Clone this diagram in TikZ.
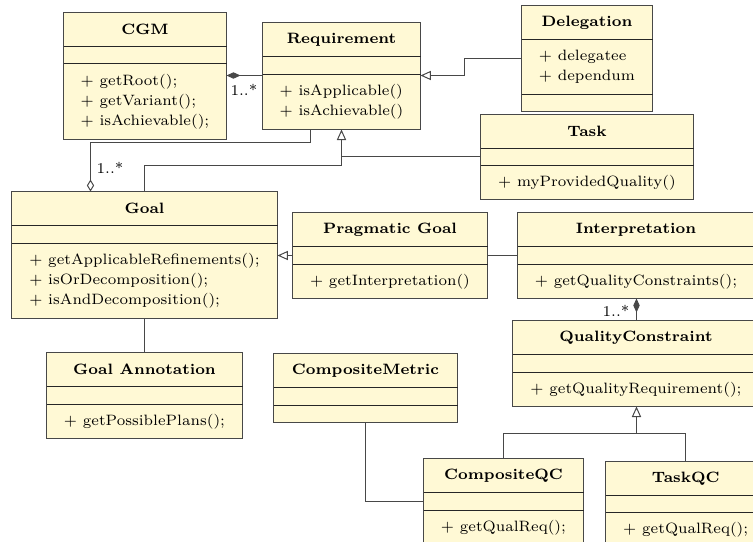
\documentclass[tikz,border=0pt]{standalone}
\usetikzlibrary{arrows.meta,calc,fit}

\definecolor{classfill}{RGB}{255,249,213}
\definecolor{edgegray}{RGB}{72,72,72}

% One UML class box: name, x1, y1, x2, y2, second separator y, title, attributes, operations
\newcommand\umlclass[9]{%
  \pgfmathsetmacro\ucA{#3+34}%
  \pgfmathsetmacro\ucX{(#2+#4)/2}%
  \pgfmathsetmacro\ucT{(#3+\ucA)/2}%
  \pgfmathsetmacro\ucM{(\ucA+#6)/2}%
  \pgfmathsetmacro\ucO{(#6+#5)/2}%
  \node[classbox, fit={(#2,#3) (#4,#5)}] (#1) {};
  \draw[classsep] (#2,\ucA) -- (#4,\ucA) (#2,#6) -- (#4,#6);
  \node[classtitle] (#1-name) at (\ucX,\ucT) {#7};
  \node[classtext] (#1-attr) at (\ucX,\ucM) {#8};
  \node[classtext] (#1-ops) at (\ucX,\ucO) {#9};
}

\begin{document}
\begin{tikzpicture}[x=0.4667pt, y=-0.4667pt,
  classbox/.style={draw=edgegray, fill=classfill, line width=0.4667pt, inner sep=0pt, outer sep=0pt},
  classsep/.style={draw=black!85, line width=0.4667pt},
  classtitle/.style={font=\fontsize{7}{9.33}\selectfont\bfseries, inner sep=0pt},
  classtext/.style={font=\fontsize{7}{9.33}\selectfont, align=left, inner sep=0pt},
  link/.style={draw=edgegray, line width=0.4667pt},
  composition/.style={link, -{Diamond[length=6.5pt,width=3pt]}},
  aggregation/.style={link, -{Diamond[open,length=5.6pt,width=3.4pt]}},
  generalization/.style={link, -{Triangle[open,length=4.9pt,width=4.3pt]}},
  mult/.style={font=\fontsize{7}{9.33}\selectfont, inner sep=0pt},
]
\useasboundingbox (0,0) rectangle (753,542);
\clip (0,0) rectangle (753,542);

% classes
\umlclass{cgm}{63.5}{12.5}{226.5}{139.5}{63.5}{CGM}{}{$+$ getRoot();\\ $+$ getVariant();\\ $+$ isAchievable();}
\umlclass{req}{262.5}{22.5}{420.5}{129.5}{74.5}{Requirement}{}{$+$ isApplicable()\\ $+$ isAchievable()}
\umlclass{deleg}{521.5}{5.5}{652.5}{111.5}{94.5}{Delegation}{$+$ delegatee\\ $+$ dependum}{}
\umlclass{task}{480.5}{114.5}{693.5}{199.5}{165.5}{Task}{}{$+$ myProvidedQuality()}
\umlclass{goal}{11.5}{191.5}{277.5}{318.5}{243.5}{Goal}{}{$+$ getApplicableRefinements();\\ $+$ isOrDecomposition();\\ $+$ isAndDecomposition();}
\umlclass{pg}{292.5}{212.5}{487.5}{298.5}{264.5}{Pragmatic Goal}{}{$+$ getInterpretation()}
\umlclass{interp}{517.5}{212.5}{754.5}{298.5}{264.5}{Interpretation}{}{$+$ getQualityConstraints();}
\umlclass{qc}{512.5}{320.5}{759.5}{406.5}{372.5}{QualityConstraint}{}{$+$ getQualityRequirement();}
\umlclass{cqc}{423.5}{458.5}{583.5}{544}{510.5}{CompositeQC}{}{$+$ getQualReq();}
\umlclass{tqc}{605.5}{461.5}{766}{546}{512.5}{TaskQC}{}{$+$ getQualReq();}
\umlclass{ga}{46.5}{352.5}{242.5}{438.5}{404.5}{Goal Annotation}{}{$+$ getPossiblePlans();}
\umlclass{cm}{273.5}{353.5}{457.5}{422.5}{405.5}{CompositeMetric}{}{}

% CGM is composed of requirements
\draw[composition] ($(req.north west)+(0,53)$) -- ($(cgm.north east)+(0,63)$);
\node[mult] (m1) at (244,90) {1..*};

% Delegation specialises Requirement
\draw[generalization] ($(deleg.north west)+(0,53)$) -| ($(req.north east)+(44,53)$)
  -- ($(req.north east)+(0,53)$);

% Goal aggregates requirements
\draw[aggregation] ($(req.south west)+(48,0)$) |- ($(goal.north west)+(79,-49)$)
  -- ($(goal.north west)+(79,0)$);
\node[mult] (m2) at (110,168) {1..*};

% Goal and Task specialise Requirement
\draw[generalization] ($(goal.north west)+(133,0)$) |- ($(req.south west)+(79,36)$)
  -- ($(req.south west)+(79,0)$);
\draw[link] ($(task.north west)+(0,42)$) -- ($(req.south west)+(79,27)$);

% Pragmatic Goal specialises Goal
\draw[generalization] ($(pg.north west)+(0,43)$) -- ($(goal.north east)+(0,64)$);

% Pragmatic Goal -- Interpretation
\draw[link] ($(pg.north east)+(0,43)$) -- ($(interp.north west)+(0,43)$);

% Interpretation is composed of quality constraints
\draw[composition] ($(qc.north west)+(124,0)$) -- ($(interp.south west)+(119,0)$);
\node[mult] (m3) at (616,311) {1..*};

% CompositeQC and TaskQC specialise QualityConstraint
\draw[generalization] ($(cqc.north west)+(80,0)$) |- ($(qc.south west)+(124,27)$)
  -- ($(qc.south west)+(124,0)$);
\draw[link] ($(tqc.north west)+(80,0)$) |- ($(qc.south west)+(124,27)$);

% Goal -- Goal Annotation
\draw[link] ($(goal.south west)+(133,0)$) -- ($(ga.north west)+(98,0)$);

% CompositeMetric -- CompositeQC
\draw[link] (cm.south) |- ($(cqc.north west)+(0,43)$);
\end{tikzpicture}
\end{document}
